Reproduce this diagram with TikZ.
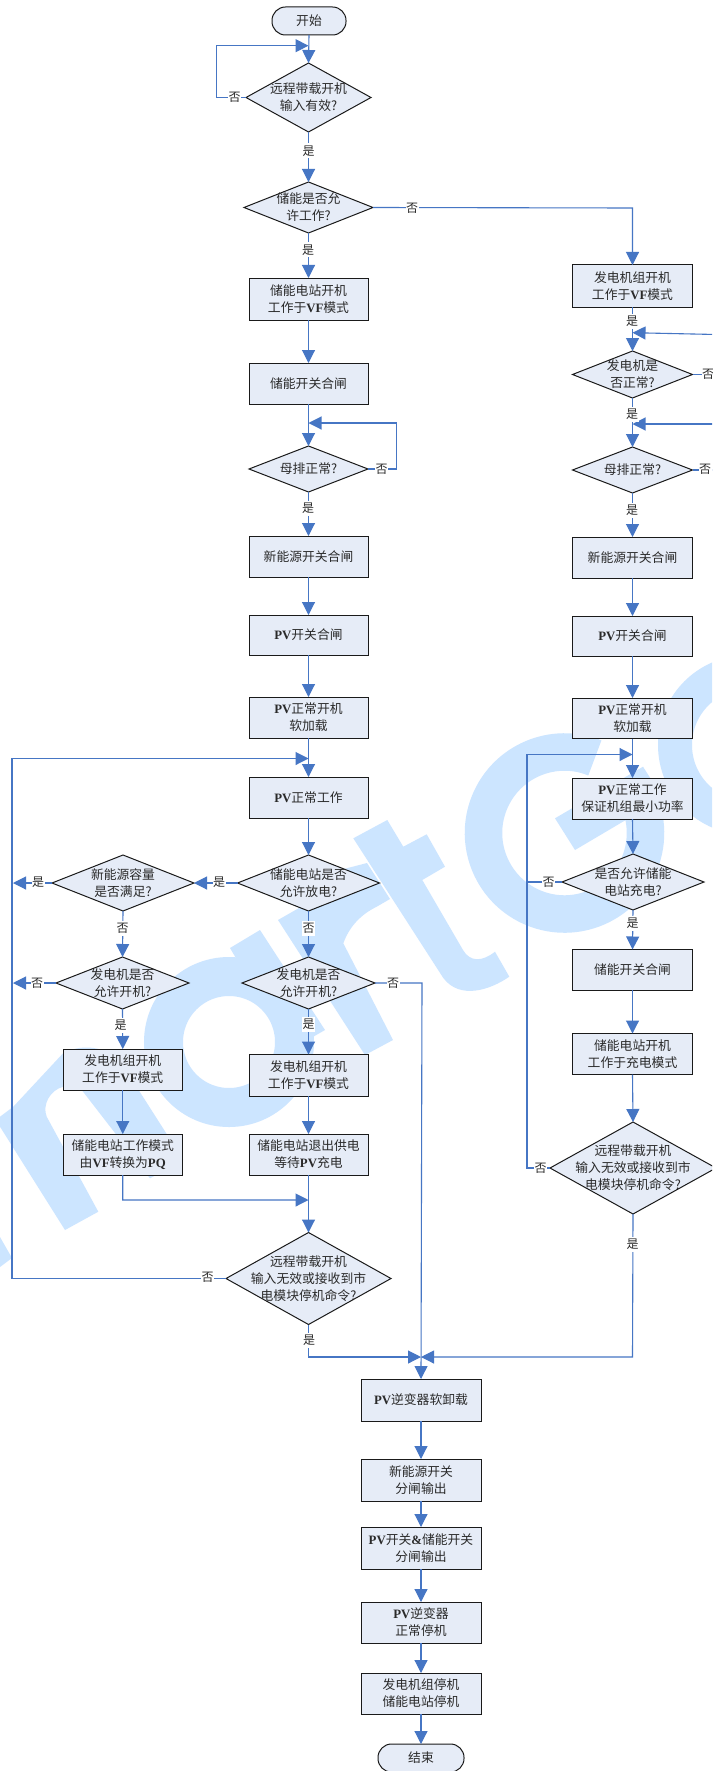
\documentclass[tikz,border=0pt]{standalone}
\usepackage{fontspec}
\usetikzlibrary{shapes.geometric,arrows.meta}
\setmainfont{Noto Sans CJK SC}
\newfontfamily\latf{Liberation Serif}
\newcommand\LB[1]{{\latf\bfseries #1}}
\definecolor{wmark}{HTML}{CCE5FF}
\definecolor{boxfill}{HTML}{E6ECF7}
\definecolor{flowc}{HTML}{4676C4}
\definecolor{inkc}{HTML}{1A1A1A}
\definecolor{txtc}{HTML}{2A2A2A}
\tikzset{
  txt/.style={font=\fontsize{12.8}{17}\selectfont,text=txtc,align=center},
  procbox/.style={rectangle,draw=inkc,line width=1pt,fill=boxfill,outer sep=0pt,inner sep=0pt,txt},
  decision/.style={diamond,draw=inkc,line width=1pt,fill=boxfill,outer sep=0pt,inner sep=0pt},
  dtext/.style={txt,inner sep=0pt},
  terminal/.style={procbox,rounded corners=13.5pt},
  flowline/.style={draw=flowc,line width=1.1pt},
  flow/.style={flowline,-{Triangle[length=13pt,width=13pt,color=flowc]}},
  lbl/.style={fill=white,inner sep=0pt,minimum width=13pt,minimum height=15pt,font=\fontsize{12}{14}\selectfont,text=txtc},
  wm/.style={fill=wmark,draw=none},
  wms/.style={draw=wmark}
}
\newcommand\Dec[6]{\node[decision,minimum width={#3-#2},minimum height={#5-#4}] (#1) at ({(#2+#3)/2},{(#4+#5)/2}) {}; \node[dtext] (#1t) at (#1) {#6};}
\newcommand\Prc[6]{\node[procbox,minimum width={#3-#2},minimum height={#5-#4}] (#1) at ({(#2+#3)/2},{(#4+#5)/2}) {#6};}
\begin{document}
\begin{tikzpicture}[x=1pt,y=-1pt]
\useasboundingbox (0,0) rectangle (712,1771);
\clip (0,0) rectangle (712,1771);
\fill[white] (0,0) rectangle (712,1771);
% watermark
\fill[wm] (65,1230) -- (98.3,1211.7) -- (46.7,1116.7) .. controls (42,1105) and (50,1090) .. (63.3,1086.7) .. controls (72,1084) and (78,1086) .. (83.3,1092) -- (150,1178.3) -- (183.3,1160) -- (123.3,1066) .. controls (112,1048) and (85,1042) .. (63.3,1053) -- (13.3,1106.7) -- (0,1116.7) -- (0,1126.7) -- cycle;
\fill[wm] (0,1237) -- (12,1258) -- (0,1267) -- cycle;
\draw[wms,line width=39pt] (229,1042) circle[radius=65.5];
\fill[wm] (260,930) -- (230,948) -- (290,1050) -- (325,1030) -- cycle;
\fill[wm] (278,920) -- (365,1055) -- (393,1040) -- (343.3,943.3) .. controls (350,925) and (362,914) .. (376.7,906.7) -- (390,899) -- (367,863) -- (340,870) -- (306,904) -- cycle;
\fill[wm] (353.3,838.3) -- (387.3,820) -- (403.3,846.7) -- (426.7,834.3) -- (445,866.7) -- (422.3,880) -- (463,950) .. controls (470,962) and (482,962) .. (495,951.7) -- (509.3,976.7) .. controls (490,990) and (460,1000) .. (443.3,978) -- cycle;
\begin{scope}[shift={(564.5,833)},x=1pt,y=1pt]
\draw[wms,line width=37.5pt] (68:81) arc[start angle=68,end angle=390,radius=81];
\end{scope}
\fill[wm] (555,818.3) -- (575,850) -- (663,798) -- (643,766.7) -- cycle;
\draw[wms,line width=34pt] (748,745) circle[radius=73];
% left column
\node[terminal,minimum width=74,minimum height=28] (start) at (309,21) {开始};
\Dec{d1}{246}{371}{63}{132}{远程带载开机\\输入有效?}
\Dec{d2}{244}{373}{182}{233}{储能是否允\\许工作?}
\Prc{b1}{249}{368}{278}{320}{储能电站开机\\工作于\LB{VF}模式}
\Prc{b2}{249}{368}{363}{404}{储能开关合闸}
\Dec{d3}{249}{368}{446}{492}{母排正常?}
\Prc{b3}{249}{368}{536}{577}{新能源开关合闸}
\Prc{b4}{249}{368}{615}{655}{\LB{PV}开关合闸}
\Prc{b5}{249}{368}{697}{738}{\LB{PV}正常开机\\软加载}
\Prc{b6}{249}{368}{777}{818}{\LB{PV}正常工作}
\Dec{d4}{237.5}{379.5}{855}{911}{储能电站是否\\允许放电?}
\Dec{d5}{242}{375}{957}{1009}{发电机是否\\允许开机?}
\Prc{b7}{249}{368}{1054.5}{1096}{发电机组开机\\工作于\LB{VF}模式}
\Prc{b8}{249}{368}{1134}{1175}{储能电站退出供电\\等待\LB{PV}充电}
\Dec{d6}{226}{391}{1232.5}{1324.5}{远程带载开机\\输入无效或接收到市\\电模块停机命令?}
% far-left column
\Dec{d7}{52}{194}{855}{911}{新能源容量\\是否满足?}
\Dec{d8}{56}{189}{957}{1009}{发电机是否\\允许开机?}
\Prc{b9}{63}{182.5}{1049}{1090}{发电机组开机\\工作于\LB{VF}模式}
\Prc{b10}{63}{182.5}{1134}{1175}{储能电站工作模式\\由\LB{VF}转换为\LB{PQ}}
% right column
\Prc{r1}{572.5}{692.5}{265}{307}{发电机组开机\\工作于\LB{VF}模式}
\Dec{r2}{572.5}{692.5}{351}{398}{发电机是\\否正常?}
\Dec{r3}{572.5}{692.5}{447}{493}{母排正常?}
\Prc{r4}{572.5}{692.5}{537}{578}{新能源开关合闸}
\Prc{r5}{572.5}{692.5}{616}{656}{\LB{PV}开关合闸}
\Prc{r6}{572.5}{692.5}{698}{738.5}{\LB{PV}正常开机\\软加载}
\Prc{r7}{572.5}{692.5}{778}{819}{\LB{PV}正常工作\\保证机组最小功率}
\Dec{r8}{562}{704}{854}{910}{是否允许储能\\电站充电?}
\Prc{r9}{572.5}{692.5}{949.5}{990}{储能开关合闸}
\Prc{r10}{572.5}{692.5}{1033.5}{1074.5}{储能电站开机\\工作于充电模式}
\Dec{r11}{550}{716}{1122}{1214}{远程带载开机\\输入无效或接收到市\\电模块停机命令?}
% bottom column
\Prc{e1}{361}{481}{1379}{1421}{\LB{PV}逆变器软卸载}
\Prc{e2}{361}{481}{1459}{1501}{新能源开关\\分闸输出}
\Prc{e3}{361}{481}{1527}{1569}{\LB{PV}开关\LB{\&}储能开关\\分闸输出}
\Prc{e4}{361}{481}{1602}{1643}{\LB{PV}逆变器\\正常停机}
\Prc{e5}{361}{481}{1673}{1714}{发电机组停机\\储能电站停机}
\node[terminal,minimum width=86,minimum height=28] (finish) at (421,1758) {结束};
% junctions
\coordinate (j1) at (308.5,45.7);
\coordinate (j1a) at (216.7,97.5);
\coordinate (j1b) at (216.7,45.7);
\coordinate (j2) at (632.5,208);
\coordinate (j3) at (308.5,423);
\coordinate (j3a) at (396.7,469);
\coordinate (j3b) at (396.7,423);
\coordinate (j4) at (308.5,758.5);
\coordinate (j4a) at (12,1278.5);
\coordinate (j4b) at (12,758.5);
\coordinate (j5) at (13,883);
\coordinate (j6) at (13,983);
\coordinate (j7) at (422,983);
\coordinate (j8) at (122.7,1200);
\coordinate (j9) at (308.5,1200);
\coordinate (j10) at (421,1357);
\coordinate (j10a) at (308.5,1357);
\coordinate (j10b) at (632.5,1357);
\coordinate (j11) at (632.5,332.7);
\coordinate (j11a) at (716,334.5);
\coordinate (j12) at (632.5,424);
\coordinate (j12a) at (716,424);
\coordinate (j13) at (716,374.5);
\coordinate (j14) at (716,470);
\coordinate (j15) at (632.5,754.5);
\coordinate (j15a) at (527,1168);
\coordinate (j15b) at (527,754.5);
\coordinate (j15c) at (527,882);
% connectors
\draw[flow] (start.south) -- (d1.north);
\draw[flow] (d1.west) -- (j1a) -- (j1b) -- (j1);
\draw[flow] (d1.south) -- (d2.north);
\draw[flow] (d2.east) -- (j2) -- (r1.north);
\draw[flow] (d2.south) -- (b1.north);
\draw[flow] (b1.south) -- (b2.north);
\draw[flow] (b2.south) -- (d3.north);
\draw[flow] (d3.east) -- (j3a) -- (j3b) -- (j3);
\draw[flow] (d3.south) -- (b3.north);
\draw[flow] (b3.south) -- (b4.north);
\draw[flow] (b4.south) -- (b5.north);
\draw[flow] (b5.south) -- (b6.north);
\draw[flow] (b6.south) -- (d4.north);
\draw[flow] (d4.west) -- (d7.east);
\draw[flow] (d7.west) -- (j5);
\draw[flow] (d7.south) -- (d8.north);
\draw[flow] (d8.west) -- (j6);
\draw[flow] (d8.south) -- (b9.north);
\draw[flow] (b9.south) -- (b10.north);
\draw[flow] (b10.south) -- (j8) -- (j9);
\draw[flow] (d4.south) -- (d5.north);
\draw[flow] (d5.south) -- (b7.north);
\draw[flow] (b7.south) -- (b8.north);
\draw[flow] (b8.south) -- (d6.north);
\draw[flow] (d5.east) -- (j7) -- (e1.north);
\draw[flow] (d6.west) -- (j4a) -- (j4b) -- (j4);
\draw[flow] (d6.south) -- (j10a) -- (j10);
\draw[flow] (r11.south) -- (j10b) -- (j10);
\draw[flow] (r1.south) -- (r2.north);
\draw[flow] (j11a) -- (j11);
\draw[flowline] (r2.east) -- (j13);
\draw[flow] (r2.south) -- (r3.north);
\draw[flow] (j12a) -- (j12);
\draw[flowline] (r3.east) -- (j14);
\draw[flow] (r3.south) -- (r4.north);
\draw[flow] (r4.south) -- (r5.north);
\draw[flow] (r5.south) -- (r6.north);
\draw[flow] (r6.south) -- (r7.north);
\draw[flow] (r7.south) -- (r8.north);
\draw[flowline] (r8.west) -- (j15c);
\draw[flow] (r8.south) -- (r9.north);
\draw[flow] (r9.south) -- (r10.north);
\draw[flow] (r10.south) -- (r11.north);
\draw[flow] (r11.west) -- (j15a) -- (j15b) -- (j15);
\draw[flow] (e1.south) -- (e2.north);
\draw[flow] (e2.south) -- (e3.north);
\draw[flow] (e3.south) -- (e4.north);
\draw[flow] (e4.south) -- (e5.north);
\draw[flow] (e5.south) -- (finish.north);
% branch labels
\node[lbl] (l1) at (234.7,97) {否};
\node[lbl] (l2) at (308.5,151) {是};
\node[lbl] (l3) at (412,208) {否};
\node[lbl] (l4) at (308,250) {是};
\node[lbl] (l5) at (381.7,469) {否};
\node[lbl] (l6) at (308,508) {是};
\node[lbl] (l7) at (219,882) {是};
\node[lbl] (l8) at (38,882.5) {是};
\node[lbl] (l9) at (37,983) {否};
\node[lbl] (l10) at (122.7,928) {否};
\node[lbl] (l11) at (120.5,1025) {是};
\node[lbl] (l12) at (308.5,928) {否};
\node[lbl] (l13) at (308.5,1024) {是};
\node[lbl] (l14) at (393,983) {否};
\node[lbl] (l15) at (207.7,1277) {否};
\node[lbl] (l16) at (309,1340.5) {是};
\node[lbl] (l17) at (632.5,1244) {是};
\node[lbl] (l18) at (632,321) {是};
\node[lbl] (l19) at (708,374.5) {否};
\node[lbl] (l20) at (632,414) {是};
\node[lbl] (l21) at (705,469.5) {否};
\node[lbl] (l22) at (632,510) {是};
\node[lbl] (l23) at (548.7,882) {否};
\node[lbl] (l24) at (632.5,923) {是};
\node[lbl] (l25) at (540.5,1168) {否};
\end{tikzpicture}
\end{document}
